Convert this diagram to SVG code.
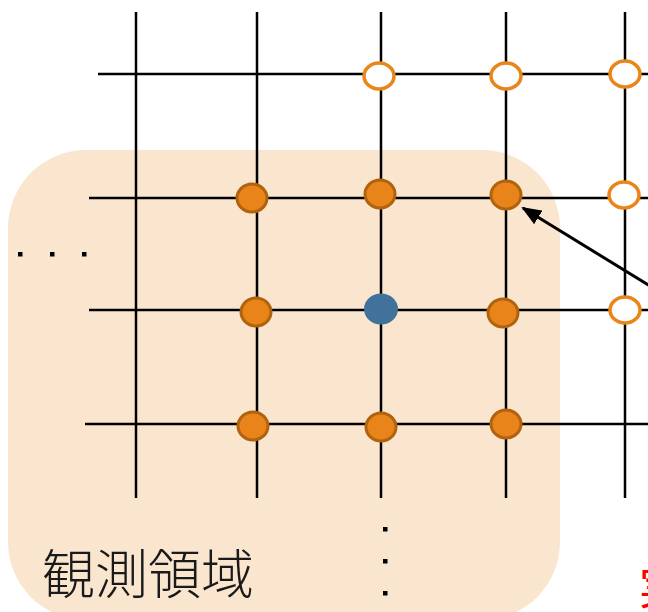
<svg xmlns="http://www.w3.org/2000/svg" width="648" height="612" viewBox="0 0 648 612">
<style>
.grid{stroke:#000;stroke-width:2.5;fill:none}
.obs{fill:#E8841A;stroke:#B0620F;stroke-width:3}
.open{fill:#fff;stroke:#E8861A;stroke-width:3.5}
.tgt{fill:#41729B}
.dot{fill:#000}
.lbl{font-family:"Noto Sans CJK JP","Noto Sans CJK SC",sans-serif;font-size:53px;font-weight:300;fill:#1a1a1a}
</style>
<defs>
<marker id="ah2" viewBox="0 0 20 16" refX="18" refY="8" markerWidth="20" markerHeight="16" orient="auto" markerUnits="userSpaceOnUse">
<path d="M0,0 L20,8 L0,16 Z" fill="#000"/>
</marker>
</defs>
<rect id="region" x="8" y="150" width="552" height="470" rx="78" ry="78" fill="#FAE6CF"/>
<g id="connectors">
<line class="grid" x1="136" y1="12" x2="136" y2="498"/>
<line class="grid" x1="257" y1="12" x2="257" y2="498"/>
<line class="grid" x1="381" y1="12" x2="381" y2="498"/>
<line class="grid" x1="506" y1="12" x2="506" y2="498"/>
<line class="grid" x1="625" y1="12" x2="625" y2="498"/>
<line class="grid" x1="98" y1="74" x2="648" y2="74"/>
<line class="grid" x1="89" y1="198" x2="648" y2="198"/>
<line class="grid" x1="89" y1="310" x2="648" y2="310"/>
<line class="grid" x1="85" y1="424" x2="648" y2="424"/>
<line x1="650" y1="286" x2="523" y2="208" stroke="#000" stroke-width="3" marker-end="url(#ah2)"/>
</g>
<g id="n-r0c2"><ellipse class="open" cx="379" cy="76" rx="15" ry="13"/></g>
<g id="n-r0c3"><ellipse class="open" cx="506" cy="76" rx="15" ry="13"/></g>
<g id="n-r0c4"><ellipse class="open" cx="625" cy="74" rx="15" ry="13"/></g>
<g id="n-r1c1"><ellipse class="obs" cx="252" cy="198" rx="15" ry="14"/></g>
<g id="n-r1c2"><ellipse class="obs" cx="380" cy="194" rx="15" ry="14"/></g>
<g id="n-r1c3"><ellipse class="obs" cx="506" cy="195" rx="15" ry="14"/></g>
<g id="n-r1c4"><ellipse class="open" cx="624" cy="195" rx="15" ry="13"/></g>
<g id="n-r2c1"><ellipse class="obs" cx="256" cy="312" rx="15" ry="14"/></g>
<g id="n-r2c2"><ellipse class="tgt" cx="381" cy="309" rx="17" ry="15.5"/></g>
<g id="n-r2c3"><ellipse class="obs" cx="503" cy="313" rx="15" ry="14"/></g>
<g id="n-r2c4"><ellipse class="open" cx="625" cy="310" rx="15" ry="13"/></g>
<g id="n-r3c1"><ellipse class="obs" cx="253" cy="426" rx="15" ry="14"/></g>
<g id="n-r3c2"><ellipse class="obs" cx="381" cy="427" rx="15" ry="14"/></g>
<g id="n-r3c3"><ellipse class="obs" cx="506" cy="424" rx="15" ry="14"/></g>
<g id="dots">
<rect class="dot" x="18" y="252" width="4.5" height="4.5"/>
<rect class="dot" x="50" y="252" width="4.5" height="4.5"/>
<rect class="dot" x="82" y="252" width="4.5" height="4.5"/>
<rect class="dot" x="383" y="527" width="4.5" height="4.5"/>
<rect class="dot" x="383" y="559" width="4.5" height="4.5"/>
<rect class="dot" x="383" y="591" width="4.5" height="4.5"/>
</g>
<g id="label"><text class="lbl" x="42" y="594">観測領域</text></g>
<g id="red-label"><text x="639" y="604" font-family="Noto Sans CJK JP, sans-serif" font-size="46" fill="#FF0000">実</text></g>
</svg>
